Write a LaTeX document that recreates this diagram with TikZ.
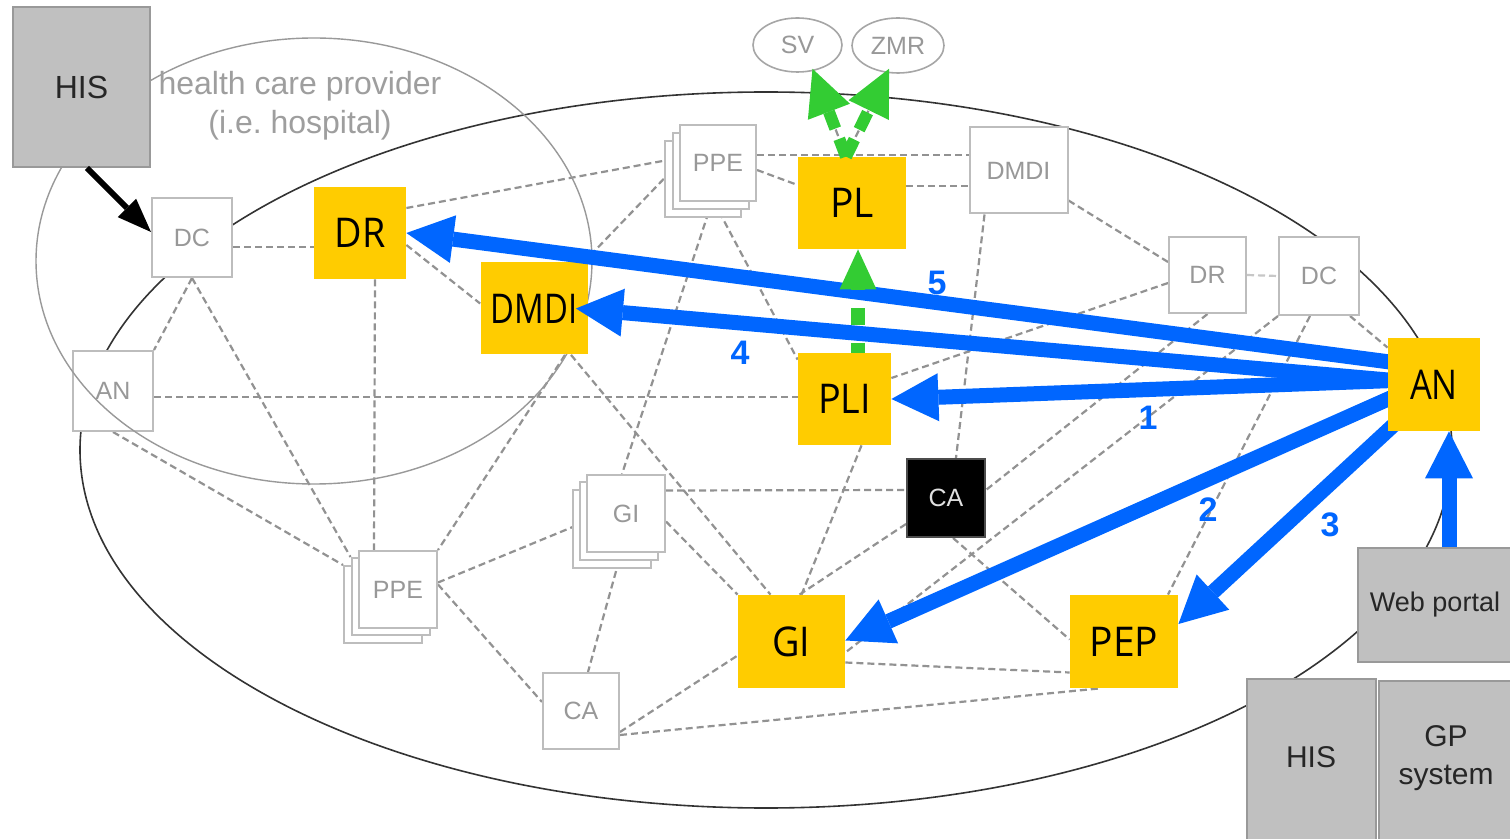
\documentclass[tikz,border=0pt]{standalone}
\usepackage{fontspec}
\usepackage{graphicx}
\setmainfont{Liberation Sans}
\newfontfamily\boxfont{Open Sans}
\usetikzlibrary{arrows.meta,calc,shapes.geometric}
\definecolor{hiYellow}{HTML}{FFCC00}
\definecolor{flowBlue}{HTML}{0066FF}
\definecolor{flowGreen}{HTML}{33CC33}
\definecolor{sysGray}{HTML}{C0C0C0}
\definecolor{sysEdge}{HTML}{999999}
\definecolor{meshGray}{HTML}{929292}
\definecolor{boxEdge}{HTML}{BDBDBD}
\definecolor{labelGray}{HTML}{989898}
\pgfdeclarelayer{back}
\pgfdeclarelayer{front}
\pgfsetlayers{back,main,front}
\frenchspacing
\begin{document}
\begin{tikzpicture}[x=0.5pt,y=-0.5pt,
  sz/.style 2 args={minimum width=#1*0.5pt, minimum height=#2*0.5pt},
  compbox/.style={draw=boxEdge, line width=1pt, fill=white, inner sep=0pt,
    font=\fontsize{12.5}{15}\selectfont, text=labelGray},
  hotbox/.style={fill=hiYellow, inner sep=0pt,
    font=\boxfont\fontsize{20.5}{23}\selectfont, text=black},
  sysbox/.style={draw=sysEdge, line width=1pt, fill=sysGray, inner sep=0pt, text=black!85},
  extbox/.style={ellipse, draw=black!35, line width=0.8pt, fill=white, inner sep=0pt,
    font=\fontsize{12.5}{15}\selectfont, text=labelGray},
  mesh/.style={draw=meshGray, line width=1.1pt, dash pattern=on 3.5pt off 2pt},
  flow/.style={draw=flowBlue, line width=7.5pt,
    -{Triangle[length=23.5pt,width=24pt,line width=0pt]}},
  query/.style={draw=flowGreen, line width=6pt, dash pattern=on 9.5pt off 5.5pt,
    -{Triangle[length=23pt,width=22.5pt,line width=0pt]}},
  seqnum/.style={text=flowBlue, font=\bfseries\fontsize{17}{17}\selectfont, inner sep=0pt}
]
\useasboundingbox (0,0) rectangle (1510,839);

% ---- light component boxes of the network ----
\node[compbox, sz={80}{79}] (dcL) at (192,237.5) {DC};
\node[compbox, sz={80}{80}] (anL) at (113,391) {AN};
\node[compbox, sz={76}{76}] (ppeT2) at (703,179) {};
\node[compbox, sz={76}{76}] (ppeT1) at (710.5,171) {};
\node[compbox, sz={76}{76}] (ppeT) at (718,163) {PPE};
\node[compbox, sz={98}{86}] (dmdiG) at (1018.5,170.5) {DMDI};
\node[compbox, sz={77}{76}] (drR) at (1207.5,275) {DR};
\node[compbox, sz={80}{78}] (dcR) at (1319,276) {DC};
\node[compbox, sz={78}{77}] (ppeB2) at (383,604.5) {};
\node[compbox, sz={78}{77}] (ppeB1) at (390.5,596.5) {};
\node[compbox, sz={78}{77}] (ppeB) at (398,589.5) {PPE};
\node[compbox, sz={78}{77}] (giG2) at (611.5,529) {};
\node[compbox, sz={78}{77}] (giG1) at (619,521) {};
\node[compbox, sz={78}{77}] (giG) at (626,513.5) {GI};
\node[compbox, sz={76}{76}] (caB) at (581,711) {CA};
\node[compbox, sz={78}{78}, fill=black, draw=black!70, text=white!88!black] (caK) at (946,498) {CA};

% ---- health care provider domain ----
\draw[black!40, line width=0.7pt] (314,261) ellipse [x radius=139pt, y radius=111.5pt];
\node[text=black!38, font=\fontsize{16}{19.5}\selectfont, align=center, inner sep=0pt]
  (hcp) at (300,106) {health care provider\\(i.e. hospital)};

% ---- external registers ----
\node[extbox, sz={89}{54}] (sv) at (797.5,45) {SV};
\node[extbox, sz={92}{55}] (zmr) at (898,45.5) {ZMR};

% ---- highlighted components ----
\node[hotbox, sz={92}{92}] (dr) at (360,233) {\scalebox{0.92}[1]{DR}};
\node[hotbox, sz={107}{92}] (dmdi) at (534,308.5) {\scalebox{0.8}[1]{DMDI}};
\node[hotbox, sz={108}{92}] (pl) at (852,203) {\scalebox{0.95}[1]{PL}};
\node[hotbox, sz={93}{92}] (pli) at (844.5,399) {\scalebox{0.92}[1]{PLI}};
\node[hotbox, sz={107}{93}] (gi) at (791.5,641.5) {\scalebox{0.92}[1]{GI}};
\node[hotbox, sz={108}{93}] (pep) at (1124,641.5) {\scalebox{0.95}[1]{PEP}};
\begin{pgfonlayer}{front}
\node[hotbox, sz={92}{93}] (an) at (1434,384.5) {\scalebox{0.84}[1]{AN}};
\end{pgfonlayer}

% ---- client systems ----
\node[sysbox, sz={137}{160}, font=\fontsize{16}{18}\selectfont] (hisT) at (81.5,87) {HIS};
\node[sysbox, sz={154}{114}, font=\fontsize{13.5}{16}\selectfont] (web) at (1435,605) {Web portal};
\node[sysbox, sz={129}{166}] (hisB) at (1311.5,762) {};
\node[font=\fontsize{15}{18}\selectfont, text=black!85, inner sep=0pt] (hisBt) at (1311,757) {HIS};
\node[sysbox, sz={133}{164}] (gp) at (1445.5,763) {};
\node[font=\fontsize{15}{19}\selectfont, text=black!85, align=center, inner sep=0pt] (gpT) at (1446,758) {GP\\system};

% ---- background: affinity domain and network links ----
\begin{pgfonlayer}{back}
\fill[white] (0,0) rectangle (1510,839);
\draw[black!80, line width=0.8pt] (766,450) ellipse [x radius=343pt, y radius=179pt];
\draw[mesh] ($(dcL.east)+(0,9.5)$) -- ($(dr.west)+(0,14)$);
\draw[mesh] (dcL.south) -- (anL.north east);
\draw[mesh] (dcL.south) -- (ppeB1.north west);
\draw[mesh] ($(anL.east)+(0,6)$) -- ($(pli.west)+(0,-2)$);
\draw[mesh] (anL.south) -- (ppeB2.north west);
\draw[mesh] ($(dr.east)+(0,-25)$) -- ($(ppeT.west)+(0,-5)$);
\draw[mesh] ($(dr.east)+(0,12)$) -- ($(dmdi.west)+(0,-5)$);
\draw[mesh] ($(dr.south)+(15,0)$) -- ($(ppeB.north west)+(16,0)$);
\draw[mesh] ($(dmdi.south)+(31,0)$) -- (ppeB.north east);
\draw[mesh] ($(dmdi.south)+(37,0)$) -- ($(gi.north)+(-21,0)$);
\draw[mesh] (ppeT.west) -- ($(dmdi.north east)+(-4,0)$);
\draw[mesh] ($(ppeT.east)+(0,7)$) -- ($(pl.west)+(0,-18)$);
\draw[mesh] ($(ppeT.east)+(0,-8)$) -- ($(dmdiG.west)+(0,-15.5)$);
\draw[mesh] ($(pl.east)+(0,-17)$) -- ($(dmdiG.west)+(0,15.5)$);
\draw[mesh] ($(ppeT.south)+(-6,0)$) -- ($(giG.north)+(-4,0)$);
\draw[mesh] ($(ppeT.south)+(-4,0)$) -- ($(pli.north west)+(0,7)$);
\draw[mesh] ($(dmdiG.south)+(-34,0)$) -- ($(caK.north)+(10,0)$);
\draw[mesh] ($(dmdiG.east)+(0,30)$) -- ($(drR.west)+(0,-13)$);
\draw[mesh, draw=black!22] (drR.east) -- (dcR.west);
\draw[mesh] ($(drR.west)+(0,8)$) -- ($(pli.east)+(0,-21)$);
\draw[mesh] (drR.south) -- ($(caK.east)+(0,-8)$);
\draw[mesh] (dcR.south west) -- ($(gi.east)+(0,11)$);
\draw[mesh] ($(dcR.south)+(-9,0)$) -- ($(pep.north)+(44,0)$);
\draw[mesh] ($(dcR.south east)+(-10,0)$) -- ($(an.north west)+(0,10)$);
\draw[mesh] ($(giG.east)+(0,-23)$) -- ($(caK.west)+(0,-8)$);
\draw[mesh] ($(giG.east)+(0,8)$) -- (gi.north west);
\draw[mesh] ($(ppeB.east)+(0,-7)$) -- ($(giG.west)+(0,8)$);
\draw[mesh] ($(ppeB.east)+(0,-5)$) -- ($(caB.west)+(0,-9)$);
\draw[mesh] (giG1.south) -- ($(caB.north)+(7,0)$);
\draw[mesh] ($(caB.east)+(0,21)$) -- ($(gi.west)+(0,14)$);
\draw[mesh] ($(caB.east)+(0,24)$) -- ($(pep.south)+(-24,0)$);
\draw[mesh] ($(gi.east)+(0,21)$) -- ($(pep.west)+(0,31)$);
\draw[mesh] ($(caK.south west)+(0,-14)$) -- ($(gi.north)+(8,0)$);
\draw[mesh] ($(pli.south)+(17,0)$) -- ($(gi.north)+(10,0)$);
\draw[mesh] ($(caK.south)+(7,0)$) -- ($(pep.west)+(0,-2)$);
\draw[mesh] ($(pl.north)+(-6,0)$) -- ($(sv.south)+(15,-4)$);
\draw[mesh] ($(pl.north)+(-6,0)$) -- ($(zmr.south)+(-9,-5)$);
\end{pgfonlayer}

% ---- HIS feeds the document consumer ----
\draw[line width=3pt, -{Triangle[length=17pt,width=13pt,line width=0pt]}]
  ($(hisT.south)+(5.5,0)$) -- ($(dcL.west)+(0,-5.5)$);

% ---- numbered query flow from the access node ----
\draw[flow] ($(an.west)+(6,-22)$) -- (dr.east);
\draw[flow] ($(an.west)+(6,-4)$) -- ($(dmdi.east)+(-12,0)$);
\draw[flow] ($(an.west)+(6,-4)$) -- (pli.east);
\draw[flow] ($(an.west)+(4,13)$) -- ($(gi.east)+(0,-1)$);
\draw[flow] ($(an.south west)+(10,-10)$) -- ($(pep.east)+(0,-17.5)$);
\draw[flow] ($(web.north)+(14,0)$) -- ($(an.south)+(15,0)$);

\node[seqnum] (n5) at (937,283) {5};
\node[seqnum] (n4) at (740,353) {4};
\node[seqnum] (n1) at (1148,418) {1};
\node[seqnum] (n2) at (1208,510) {2};
\node[seqnum] (n3) at (1330,525) {3};

% ---- index lookups against external registers ----
\draw[query, line width=7pt, dash pattern=on 8.5pt off 9pt, dash phase=3.5pt,
  -{Triangle[length=20pt,width=18.5pt,line width=0pt]}]
  ($(pli.north)+(13.5,0)$) -- ($(pl.south)+(6,0)$);
\draw[query] ($(pl.north)+(-6,0)$) -- ($(sv.south)+(15,-4)$);
\draw[query] ($(pl.north)+(-6,0)$) -- ($(zmr.south)+(-9,-5)$);
\end{tikzpicture}
\end{document}
